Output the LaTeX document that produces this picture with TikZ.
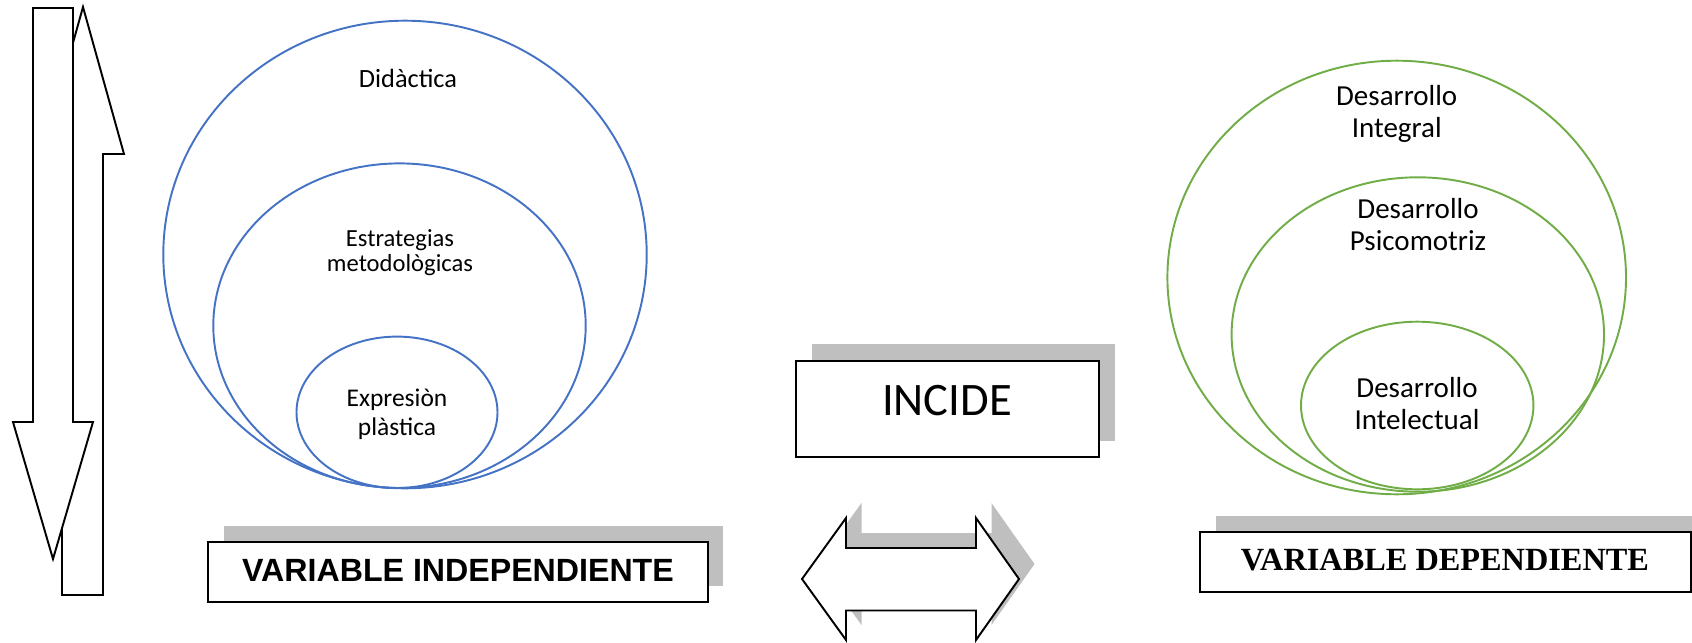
\documentclass[tikz,border=0pt]{standalone}
\usepackage{fontspec}
\setmainfont{Carlito}
\newfontfamily\arialfont{Liberation Sans}
\newfontfamily\timesfont{Liberation Serif}
\definecolor{ringblue}{HTML}{4472C4}
\definecolor{ringgreen}{HTML}{70AD47}
\tikzset{
  grayshadow/.style={fill=black!25, draw=none},
  blockarrow/.style={draw=black, fill=white},
  bluering/.style={draw=ringblue},
  greenring/.style={draw=ringgreen},
  varbox/.style={draw=black, fill=white, inner sep=0pt},
  ringtext/.style={align=center, inner sep=0pt, anchor=base}
}

\begin{document}
\begin{tikzpicture}[x=0.02cm, y=-0.02cm, line width=1.1pt, line join=miter]
\useasboundingbox (0,0) rectangle (1692,642);

\coordinate (didactica) at (405,254.5);
\coordinate (estrategias) at (399.5,325.7);
\coordinate (expresion) at (397,412.3);
\coordinate (integral) at (1396.7,277.5);
\coordinate (psicomotriz) at (1417.8,334.5);
\coordinate (intelectual) at (1417.2,405.5);

% up and down arrows
\draw[blockarrow] (83,7)--(124,154)--(103,154)--(103,595)--(62,595)--(62,154)--(42,154)--cycle;
\draw[blockarrow] (33,8)--(73,8)--(73,422)--(93,422)--(53,559)--(13,422)--(33,422)--cycle;

% independent variable
\draw[bluering] (didactica) ellipse[x radius=241.7, y radius=233.8];
\draw[bluering] (estrategias) ellipse[x radius=186.2, y radius=162.3];
\draw[bluering] (expresion) ellipse[x radius=100.5, y radius=75.7];
\node[ringtext, font=\fontsize{15}{18}\selectfont] (didlabel) at (408,87.3) {Didàctica};
\node[ringtext, font=\fontsize{14}{14.6}\selectfont] (estlabel) at (400,271.7) {Estrategias\\metodològicas};
\node[ringtext, font=\fontsize{14.5}{16.5}\selectfont] (explabel) at (397,435) {Expresiòn\\plàstica};

\fill[grayshadow] (224,526) rectangle (723,586);
\node[varbox, minimum width=10cm, minimum height=1.2cm] (indep) at (458,572) {};
\node[anchor=base, inner sep=0pt, font=\arialfont\bfseries\fontsize{18.3}{20}\selectfont] (indeplabel) at (458,581.7) {VARIABLE INDEPENDIENTE};

% incide
\fill[grayshadow] (812,344) rectangle (1115,440.5);
\node[varbox, minimum width=6.07cm, minimum height=1.92cm] (incide) at (947.5,408.7) {};
\node[anchor=base, inner sep=0pt, font=\fontsize{26.5}{30}\selectfont] (incidelabel) at (947,415) {INCIDE};

\begin{scope}[shift={(15.5,-15)}]
\fill[grayshadow] (802,579)--(846,518)--(846,548)--(976,548)--(976,518)--(1019,579)--(976,640)--(976,610.5)--(846,610.5)--(846,640)--cycle;
\end{scope}
\draw[blockarrow] (802,579)--(846,518)--(846,548)--(976,548)--(976,518)--(1019,579)--(976,640)--(976,610.5)--(846,610.5)--(846,640)--cycle;

% dependent variable
\draw[greenring] (integral) ellipse[x radius=229.3, y radius=216.8];
\draw[greenring] (psicomotriz) ellipse[x radius=186.2, y radius=157.2];
\draw[greenring] (intelectual) ellipse[x radius=116.2, y radius=83.8];
\node[ringtext, font=\fontsize{16.5}{18}\selectfont] (intlabel) at (1396.7,137.3) {Desarrollo\\Integral};
\node[ringtext, font=\fontsize{16.5}{18}\selectfont] (psilabel) at (1418,250) {Desarrollo\\Psicomotriz};
\node[ringtext, font=\fontsize{16.5}{18}\selectfont] (intellabel) at (1417,429.3) {Desarrollo\\Intelectual};

\fill[grayshadow] (1216,515.7) rectangle (1700,576);
\node[varbox, minimum width=9.81cm, minimum height=1.2cm] (dep) at (1445.4,561.7) {};
\node[anchor=base, inner sep=0pt, font=\timesfont\bfseries\fontsize{18.4}{20}\selectfont] (deplabel) at (1445,570) {VARIABLE DEPENDIENTE};
\end{tikzpicture}
\end{document}
